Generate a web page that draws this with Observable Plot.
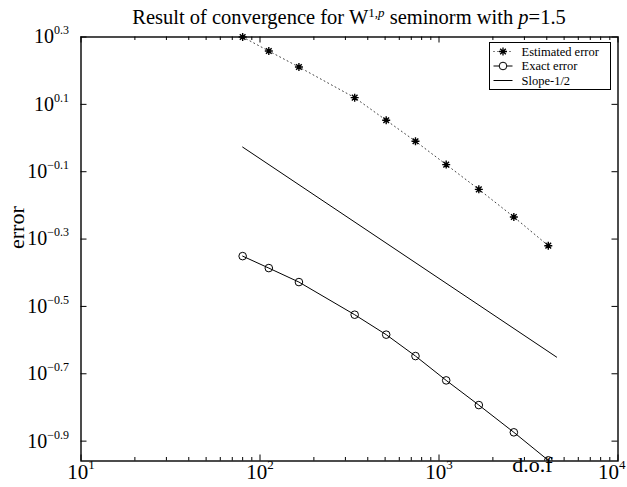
<!DOCTYPE html>
<html><head><meta charset="utf-8">
<script src="https://cdn.jsdelivr.net/npm/d3@7"></script>
<script src="https://cdn.jsdelivr.net/npm/@observablehq/plot@0.6"></script>
<style>body{margin:0;background:#fff} svg{display:block}</style>
</head><body><div id="chart"></div><script>
// ---- data ----
const dof = [80, 112, 165, 338, 507, 739, 1097, 1669, 2619, 4079];
const estimatedError = [1.995, 1.813, 1.625, 1.318, 1.129, 0.978, 0.834, 0.704, 0.583, 0.479];
const exactError = [0.446, 0.411, 0.3735, 0.2988, 0.2607, 0.2252, 0.1907, 0.1611, 0.1337, 0.1104];
const slopeDof = [80, 4540];
const slopeError = [0.940, 0.2236];
const seriesNames = ["Estimated error", "Exact error", "Slope-1/2"];
const xTickExponents = [1, 2, 3, 4];
const yTickExponents = [0.3, 0.1, -0.1, -0.3, -0.5, -0.7, -0.9];
const minorMultipliers = [2, 3, 4, 5, 6, 7, 8, 9];
const xLabel = "d.o.f";
const yLabel = "error";

// ---- layout ----
const W = 627, H = 487, mL = 80.5, mR = 9.5, mT = 36.5, mB = 26.5;
const innerW = W - mL - mR, innerH = H - mT - mB;
const font = "'Liberation Serif','Times New Roman',serif";

const est = dof.map((d, i) => ({dof: d, err: estimatedError[i]}));
const exact = dof.map((d, i) => ({dof: d, err: exactError[i]}));
const slope = slopeDof.map((d, i) => ({dof: d, err: slopeError[i]}));

const xMajor = xTickExponents.map(e => Math.pow(10, e));
const xMinor = [];
for (const e of xTickExponents.slice(0, -1)) for (const m of minorMultipliers) xMinor.push(m * Math.pow(10, e));
const yMajor = yTickExponents.map(e => Math.pow(10, e));

const asterisk8 = {
  draw(ctx, size) {
    const r = Math.sqrt(size / Math.PI);
    const d = r * Math.SQRT1_2;
    ctx.moveTo(0, -r); ctx.lineTo(0, r);
    ctx.moveTo(-r, 0); ctx.lineTo(r, 0);
    ctx.moveTo(-d, -d); ctx.lineTo(d, d);
    ctx.moveTo(-d, d); ctx.lineTo(d, -d);
  }
};

const svg = Plot.plot({
  width: W, height: H,
  marginLeft: mL, marginRight: mR, marginTop: mT, marginBottom: mB,
  style: {fontFamily: font, background: "white", color: "black", overflow: "visible"},
  x: {type: "log", domain: [10, 1e4]},
  y: {type: "log", domain: [Math.pow(10, -0.959), Math.pow(10, 0.3)]},
  marks: [
    Plot.axisX(xMajor, {anchor: "bottom", tickSize: 0, tickPadding: 3, fontSize: 21, label: null,
      tickFormat: d => "10|" + Math.round(Math.log10(d))}),
    Plot.axisY(yMajor, {anchor: "left", tickSize: 0, tickPadding: 12, fontSize: 20, label: null,
      tickFormat: d => "10|" + d3.format(".1f")(Math.log10(d)).replace("-", "\u2212")}),
    // inward ticks
    Plot.tickX(xMajor, {x: d => d, insetTop: innerH - 6, stroke: "black"}),
    Plot.tickX(xMajor, {x: d => d, insetBottom: innerH - 6, stroke: "black"}),
    Plot.tickX(xMinor, {x: d => d, insetTop: innerH - 3.5, stroke: "black"}),
    Plot.tickX(xMinor, {x: d => d, insetBottom: innerH - 3.5, stroke: "black"}),
    Plot.tickY(yMajor, {y: d => d, insetRight: innerW - 6, stroke: "black"}),
    Plot.tickY(yMajor, {y: d => d, insetLeft: innerW - 6, stroke: "black"}),
    // series
    Plot.line(est, {x: "dof", y: "err", stroke: "#444", strokeWidth: 1, strokeDasharray: "1,3.2"}),
    Plot.dot(est, {x: "dof", y: "err", symbol: asterisk8, r: 4, stroke: "black", strokeWidth: 1.4}),
    Plot.line(exact, {x: "dof", y: "err", stroke: "black", strokeWidth: 1}),
    Plot.dot(exact, {x: "dof", y: "err", r: 3.8, stroke: "black", strokeWidth: 1, fill: "none", clip: true}),
    Plot.line(slope, {x: "dof", y: "err", stroke: "black", strokeWidth: 1}),
    Plot.frame({stroke: "black", strokeWidth: 1.4}),
    Plot.text([yLabel], {frameAnchor: "left", rotate: -90, dx: -64, fontSize: 22, fill: "black"}),
    Plot.text([xLabel], {frameAnchor: "bottom-right", textAnchor: "middle", dx: -85.5, dy: 11, fontSize: 22, fill: "black"})
  ]
});

// superscript tick labels
function supify(sel, supSize) {
  sel.each(function() {
    const t = d3.select(this);
    const [base, sup] = this.textContent.split("|");
    t.text(null);
    t.append("tspan").text(base);
    t.append("tspan").attr("font-size", supSize).attr("dy", "-0.75em").text(sup);
  });
}
supify(d3.select(svg).selectAll('g[aria-label="x-axis tick label"] text'), 13);
supify(d3.select(svg).selectAll('g[aria-label="y-axis tick label"] text'), 12);

const root = d3.select(svg);
// title
const title = root.append("text")
  .attr("x", mL + innerW / 2).attr("y", 24)
  .attr("text-anchor", "middle").attr("font-size", 20.5).attr("font-family", font).attr("fill", "black");
title.append("tspan").text("Result of convergence for W");
title.append("tspan").attr("font-size", 13).attr("dy", -7).text("1,");
title.append("tspan").attr("font-size", 13).attr("font-style", "italic").text("p");
title.append("tspan").attr("dy", 7).text(" seminorm with ");
title.append("tspan").attr("font-style", "italic").text("p");
title.append("tspan").text("=1.5");

// legend
const lg = root.append("g").attr("font-family", font).attr("font-size", 12.5).attr("text-anchor", "start");
const lx = 489.5, ly = 42.5, lw = 121, lh = 47;
lg.append("rect").attr("x", lx).attr("y", ly).attr("width", lw).attr("height", lh)
  .attr("fill", "white").attr("stroke", "black").attr("stroke-width", 1);
const rowY = [51.5, 66, 80.5];
const styles = [
  {dash: "1,3", marker: "star"},
  {dash: null, marker: "circle"},
  {dash: null, marker: null}
];
seriesNames.forEach((name, i) => {
  const y = rowY[i];
  lg.append("line").attr("x1", lx + 4).attr("x2", lx + 23).attr("y1", y).attr("y2", y)
    .attr("stroke", "black").attr("stroke-width", 1).attr("stroke-dasharray", styles[i].dash);
  if (styles[i].marker === "star") {
    lg.append("path").attr("d", d3.symbol(asterisk8, Math.PI * 16)()).attr("transform", `translate(${lx + 13.5},${y})`)
      .attr("stroke", "black").attr("stroke-width", 1.3).attr("fill", "none");
  } else if (styles[i].marker === "circle") {
    lg.append("circle").attr("cx", lx + 13.5).attr("cy", y).attr("r", 3.8)
      .attr("stroke", "black").attr("fill", "white");
  }
  lg.append("text").attr("x", lx + 32).attr("y", y).attr("dy", "0.33em").attr("fill", "black").text(name);
});

document.getElementById("chart").appendChild(svg);

// keep the last x tick label inside the picture
d3.select(svg).selectAll('g[aria-label="x-axis tick label"] text').each(function() {
  const r = this.getBoundingClientRect();
  if (r.right > W - 1) d3.select(this).attr("dx", -(r.right - (W - 1)));
});
</script></body></html>
